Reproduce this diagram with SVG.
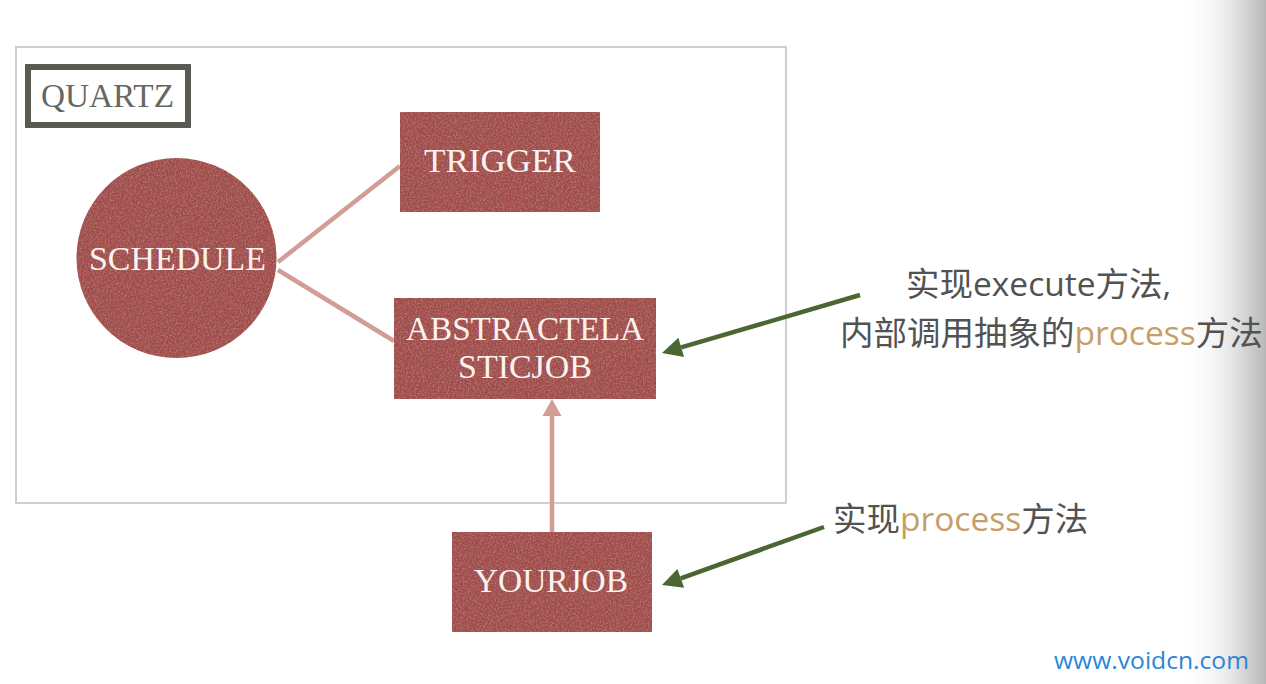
<svg xmlns="http://www.w3.org/2000/svg" width="1266" height="684" viewBox="0 0 1266 684">
<style>
.box{fill:#9f4c48;filter:url(#grain)}
.lab{font-family:"Liberation Serif",serif;font-size:33px;fill:#fbf3f0;text-anchor:start}
.con{stroke:#d19d95;stroke-width:4.500;fill:none}
.note{stroke:#4a6732;stroke-width:4.500;fill:none}
.cn{font-family:"Open Sans","Noto Sans CJK SC",sans-serif;font-size:33.500px;fill:#525252}
.or{fill:#c79e66}
</style>
<defs>
<linearGradient id="shade" x1="0" x2="1" y1="0" y2="0">
<stop offset="0" stop-color="#fff" stop-opacity="0"/>
<stop offset="0.600" stop-color="#e6e6e6"/>
<stop offset="1" stop-color="#b8b8b8"/>
</linearGradient>
<filter id="grain" x="0" y="0" width="100%" height="100%">
<feTurbulence type="fractalNoise" baseFrequency="0.6" numOctaves="2" seed="3" result="n"/>
<feColorMatrix in="n" type="matrix" values="0 0 0 0 0.70  0 0 0 0 0.38  0 0 0 0 0.36  0.8 0 0 0 -0.32" result="c"/>
<feComposite in="c" in2="SourceAlpha" operator="in" result="t"/>
<feMerge><feMergeNode in="SourceGraphic"/><feMergeNode in="t"/></feMerge>
</filter>
<marker id="pink" markerUnits="userSpaceOnUse" markerWidth="18" markerHeight="20" refX="1" refY="10" orient="auto"><path d="M1 0.500L18 10L1 19.500Z" fill="#d19d95"/></marker>
<marker id="green" markerUnits="userSpaceOnUse" markerWidth="21" markerHeight="22" refX="1" refY="11" orient="auto"><path d="M1 1L21 11L1 21Z" fill="#4a6732"/></marker>
</defs>
<rect width="1266" height="684" fill="#fff"/>
<rect x="1180" y="0" width="86" height="684" fill="url(#shade)"/>
<rect id="frame" x="16" y="47" width="770" height="456" fill="none" stroke="#cfcfcf" stroke-width="2"/>
<g id="connectors">
<line class="con" x1="278" y1="262" x2="400" y2="166"/>
<line class="con" x1="278" y1="270" x2="394" y2="341"/>
<line class="con" x1="552" y1="532" x2="552" y2="416" marker-end="url(#pink)"/>
<line class="note" x1="860" y1="295" x2="681.200" y2="347.400" marker-end="url(#green)"/>
<line class="note" x1="824" y1="527" x2="680.800" y2="578.300" marker-end="url(#green)"/>
</g>
<g id="quartz">
<rect x="28" y="67" width="160" height="58" fill="#fff" stroke="#5a5954" stroke-width="6"/>
<text x="41" y="107" textLength="133" lengthAdjust="spacingAndGlyphs" style="font-family:'Liberation Serif',serif;font-size:33px;fill:#666663">QUARTZ</text>
</g>
<g id="schedule">
<circle class="box" cx="176.500" cy="258" r="100"/>
<text class="lab" x="89" y="270" textLength="177" lengthAdjust="spacingAndGlyphs">SCHEDULE</text>
</g>
<g id="trigger">
<rect class="box" x="400" y="112" width="200" height="100"/>
<text class="lab" x="424" y="172" textLength="152" lengthAdjust="spacingAndGlyphs">TRIGGER</text>
</g>
<g id="abstractelasticjob">
<rect class="box" x="394" y="298" width="262" height="101"/>
<text class="lab" x="406" y="340" textLength="238" lengthAdjust="spacingAndGlyphs">ABSTRACTELA</text>
<text class="lab" x="458" y="378" textLength="134" lengthAdjust="spacingAndGlyphs">STICJOB</text>
</g>
<g id="yourjob">
<rect class="box" x="452" y="532" width="200" height="100"/>
<text class="lab" x="474" y="592" textLength="154" lengthAdjust="spacingAndGlyphs">YOURJOB</text>
</g>
<g id="note-execute">
<text class="cn" x="906" y="296">实现execute方法,</text>
<text class="cn" x="840" y="345">内部调用抽象的<tspan class="or">process</tspan>方法</text>
</g>
<g id="note-process">
<text class="cn" x="833" y="531">实现<tspan class="or">process</tspan>方法</text>
</g>
<text id="watermark" x="1054" y="669" textLength="195" lengthAdjust="spacingAndGlyphs" style="font-family:'Open Sans',sans-serif;font-size:23px;fill:#2a86d9">www.voidcn.com</text>
</svg>
